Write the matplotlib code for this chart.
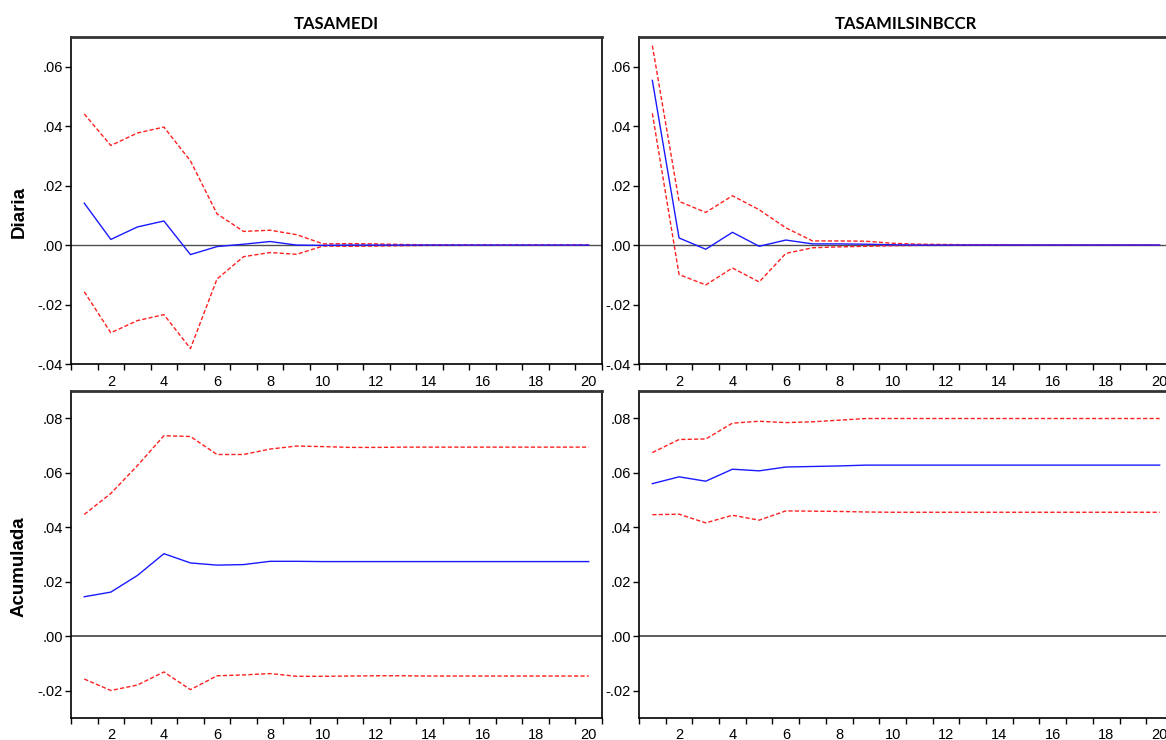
import matplotlib
matplotlib.use("Agg")
import matplotlib.pyplot as plt
import numpy as np

periods = list(range(1, 21))

# TASAMEDI - respuesta diaria
medi_diaria = [0.0141, 0.0019, 0.0061, 0.0081, -0.0032, -0.0005, 0.0003, 0.0012, 0.0000, -0.0001,
               0.0000, 0.0000, 0.0000, 0.0000, 0.0000, 0.0000, 0.0000, 0.0000, 0.0000, 0.0000]
medi_diaria_up = [0.0441, 0.0335, 0.0377, 0.0397, 0.0283, 0.0105, 0.0046, 0.0050, 0.0035, 0.0004,
                  0.0005, 0.0004, 0.0002, 0.0001, 0.0001, 0.0000, 0.0000, 0.0000, 0.0000, 0.0000]
medi_diaria_lo = [-0.0157, -0.0295, -0.0254, -0.0234, -0.0348, -0.0114, -0.0039, -0.0025, -0.0031, -0.0003,
                  -0.0004, -0.0003, -0.0002, -0.0001, -0.0001, 0.0000, 0.0000, 0.0000, 0.0000, 0.0000]

# TASAMILSINBCCR - respuesta diaria
mil_diaria = [0.0554, 0.0024, -0.0014, 0.0043, -0.0004, 0.0017, 0.0004, 0.0004, 0.0003, 0.0001,
              0.0000, 0.0000, 0.0000, 0.0000, 0.0000, 0.0000, 0.0000, 0.0000, 0.0000, 0.0000]
mil_diaria_up = [0.0671, 0.0147, 0.0110, 0.0166, 0.0119, 0.0058, 0.0014, 0.0014, 0.0013, 0.0006,
                 0.0003, 0.0002, 0.0001, 0.0001, 0.0000, 0.0000, 0.0000, 0.0000, 0.0000, 0.0000]
mil_diaria_lo = [0.0443, -0.0099, -0.0134, -0.0077, -0.0124, -0.0028, -0.0009, -0.0006, -0.0004, -0.0002,
                 -0.0001, -0.0001, 0.0000, 0.0000, 0.0000, 0.0000, 0.0000, 0.0000, 0.0000, 0.0000]

# TASAMEDI - respuesta acumulada
medi_acum = [0.0145, 0.0162, 0.0223, 0.0303, 0.0269, 0.0261, 0.0263, 0.0275, 0.0275, 0.0274,
             0.0274, 0.0274, 0.0274, 0.0274, 0.0274, 0.0274, 0.0274, 0.0274, 0.0274, 0.0274]
medi_acum_up = [0.0447, 0.0524, 0.0626, 0.0736, 0.0733, 0.0667, 0.0667, 0.0687, 0.0698, 0.0696,
                0.0693, 0.0693, 0.0694, 0.0694, 0.0694, 0.0694, 0.0694, 0.0694, 0.0694, 0.0694]
medi_acum_lo = [-0.0157, -0.0199, -0.0179, -0.0131, -0.0196, -0.0145, -0.0142, -0.0137, -0.0147, -0.0147,
                -0.0146, -0.0145, -0.0145, -0.0146, -0.0146, -0.0146, -0.0146, -0.0146, -0.0146, -0.0146]

# TASAMILSINBCCR - respuesta acumulada
mil_acum = [0.0560, 0.0585, 0.0569, 0.0613, 0.0607, 0.0621, 0.0623, 0.0625, 0.0628, 0.0628,
            0.0628, 0.0628, 0.0628, 0.0628, 0.0628, 0.0628, 0.0628, 0.0628, 0.0628, 0.0628]
mil_acum_up = [0.0674, 0.0722, 0.0724, 0.0782, 0.0789, 0.0784, 0.0787, 0.0793, 0.0799, 0.0799,
               0.0799, 0.0799, 0.0799, 0.0799, 0.0799, 0.0799, 0.0799, 0.0799, 0.0799, 0.0799]
mil_acum_lo = [0.0446, 0.0448, 0.0416, 0.0444, 0.0426, 0.0460, 0.0459, 0.0458, 0.0456, 0.0455,
               0.0455, 0.0455, 0.0455, 0.0455, 0.0455, 0.0455, 0.0455, 0.0455, 0.0455, 0.0455]

col_titles = ["TASAMEDI", "TASAMILSINBCCR"]
row_titles = ["Diaria", "Acumulada"]

W, H = 1166, 740
fig = plt.figure(figsize=(W / 100, H / 100), dpi=100)

# pixel boxes (left, top, right, bottom); right column runs past the picture edge like the source
boxes = [[(71, 37, 602, 364), (639, 37, 1173, 364)],
         [(71, 391, 602, 718), (639, 391, 1173, 718)]]

panels = [[(medi_diaria, medi_diaria_up, medi_diaria_lo), (mil_diaria, mil_diaria_up, mil_diaria_lo)],
          [(medi_acum, medi_acum_up, medi_acum_lo), (mil_acum, mil_acum_up, mil_acum_lo)]]

ylims = [(-0.04, 0.07), (-0.03, 0.09)]
yticks = [[-0.04, -0.02, 0.0, 0.02, 0.04, 0.06], [-0.02, 0.0, 0.02, 0.04, 0.06, 0.08]]


def fmt(v):
    s = "%.2f" % v
    return s.replace("0.", ".")


tick_font = "Liberation Sans"

for r in range(2):
    for c in range(2):
        l, t, rr, b = boxes[r][c]
        ax = fig.add_axes([l / W, 1 - b / H, (rr - l) / W, (b - t) / H])
        mid, up, lo = panels[r][c]
        ax.axhline(0, color="#505050", lw=1.3 if r == 1 else 1.0, zorder=1)
        ax.plot(periods, up, color="#ff2020", lw=1.0, ls=(0, (3, 1.6)), zorder=2)
        ax.plot(periods, lo, color="#ff2020", lw=1.0, ls=(0, (3, 1.6)), zorder=2)
        ax.plot(periods, mid, color="#1a1aff", lw=1.0, zorder=3)
        ax.set_xlim(0.5, 20.5)
        ax.set_ylim(*ylims[r])
        ax.set_yticks(yticks[r])
        ax.set_yticklabels([fmt(v) for v in yticks[r]], fontsize=10.5, family=tick_font)
        ax.set_xticks(np.arange(2, 21, 2))
        ax.set_xticklabels([str(v) for v in range(2, 21, 2)], fontsize=10.5, family=tick_font)
        ax.set_xticks(np.arange(0.5, 20.6, 1.0), minor=True)
        ax.tick_params(axis="x", which="major", length=0, pad=7 if r == 1 else 8)
        ax.tick_params(axis="x", which="minor", length=4, width=1, direction="out")
        ax.tick_params(axis="y", which="major", length=4, width=1, direction="out", pad=2)
        for side in ["left", "bottom", "right"]:
            ax.spines[side].set_linewidth(1.2)
            ax.spines[side].set_color("black")
        ax.spines["top"].set_linewidth(2.0)
        ax.spines["top"].set_color("#333333")
        if r == 0:
            ax.set_title(col_titles[c], fontsize=12, fontweight="bold", family="Lato", pad=6)

fig.text(19 / W, 1 - 212 / H, row_titles[0], rotation=90, ha="center", va="center",
         fontsize=13.5, fontweight="bold", family="Liberation Sans")
fig.text(19 / W, 1 - 567 / H, row_titles[1], rotation=90, ha="center", va="center",
         fontsize=13.5, fontweight="bold", family="Liberation Sans")

fig.savefig("out.png", dpi=100)
